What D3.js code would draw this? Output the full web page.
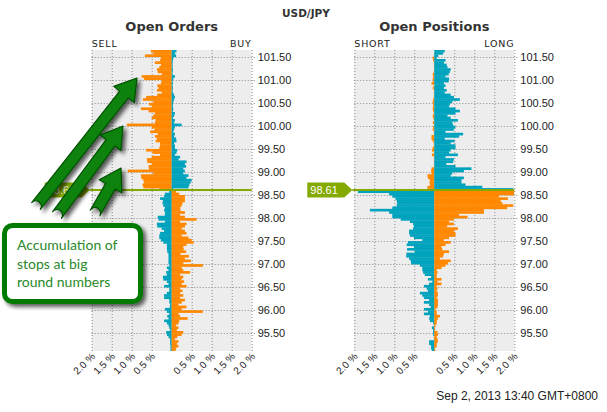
<!DOCTYPE html>
<html><head><meta charset="utf-8">
<script src="https://cdn.jsdelivr.net/npm/d3@7"></script>
<style>body{margin:0;background:#fff;} svg{display:block;}</style>
</head><body>
<svg id="c" width="607" height="412"></svg>
<script>
// ---- data ----
const priceLevels = [101.60,101.55,101.50,101.45,101.40,101.35,101.30,101.25,101.20,101.15,101.10,101.05,101.00,
100.95,100.90,100.85,100.80,100.75,100.70,100.65,100.60,100.55,100.50,
100.45,100.40,100.35,100.30,100.25,100.20,100.15,100.10,100.05,100.00,
99.95,99.90,99.85,99.80,99.75,99.70,99.65,99.60,99.55,99.50,
99.45,99.40,99.35,99.30,99.25,99.20,99.15,99.10,99.05,99.00,
98.95,98.90,98.85,98.80,98.75,98.70,98.65,98.60,98.55,98.50,
98.45,98.40,98.35,98.30,98.25,98.20,98.15,98.10,98.05,98.00,
97.95,97.90,97.85,97.80,97.75,97.70,97.65,97.60,97.55,97.50,
97.45,97.40,97.35,97.30,97.25,97.20,97.15,97.10,97.05,97.00,
96.95,96.90,96.85,96.80,96.75,96.70,96.65,96.60,96.55,96.50,
96.45,96.40,96.35,96.30,96.25,96.20,96.15,96.10,96.05,96.00,
95.95,95.90,95.85,95.80,95.75,95.70,95.65,95.60,95.55,95.50,
95.45,95.40,95.35,95.30,95.25,95.20,95.15,95.10];

const ordersSell = [0.52,0.46,0.67,0.27,0.29,0.42,0.27,0.31,0.37,0.35,
0.25,0.75,0.69,0.25,0.27,0.36,0.33,0.37,0.25,0.36,
0.64,0.72,0.46,0.57,0.50,0.77,0.58,0.42,0.46,0.50,
0.40,0.42,1.12,0.50,0.43,0.54,0.35,0.42,0.37,0.40,
0.29,0.29,0.31,0.64,0.48,0.29,0.50,0.62,0.61,0.50,
0.58,0.57,1.10,0.46,0.77,0.76,0.71,0.69,0.73,0.71,
0.31,
0.06,0.17,0.19,0.29,0.22,0.23,0.21,0.17,0.19,
0.17,0.17,0.35,0.33,0.17,0.37,0.36,0.25,0.19,0.29,
0.31,0.31,0.27,0.21,0.12,0.12,0.12,0.11,0.08,0.08,
0.08,0.08,0.08,0.06,0.12,0.08,0.14,0.12,0.22,0.21,
0.12,0.08,0.19,0.06,0.06,0.12,0.19,0.19,0.06,0.06,
0.04,0.05,0.17,0.12,0.06,0.11,0.08,0.19,0.12,0.08,
0.06,0.04,0.14,0.12,0.08,0.04,0.04,0.04,0.03,0.03,0.03];

const ordersBuy = [0.12,0.08,0.11,0.04,0.03,0.02,0.02,0.02,0.03,0.02,
0.02,0.08,0.04,0.02,0.03,0.02,0.03,0.02,0.03,0.06,
0.08,0.06,0.04,0.03,0.03,0.04,0.03,0.08,0.06,0.03,
0.08,0.06,0.25,0.08,0.06,0.04,0.08,0.06,0.11,0.12,
0.06,0.08,0.08,0.14,0.12,0.08,0.21,0.17,0.37,0.33,
0.36,0.29,0.33,0.29,0.42,0.37,0.50,0.47,0.44,0.42,
0.04,
0.11,0.19,0.33,0.33,0.33,0.27,0.25,0.21,0.22,
0.33,0.21,0.33,0.62,0.21,0.37,0.33,0.25,0.33,0.37,
0.25,0.42,0.50,0.55,0.37,0.29,0.30,0.36,0.22,0.43,
0.33,0.48,0.29,0.78,0.25,0.29,0.46,0.21,0.29,0.25,
0.31,0.25,0.37,0.21,0.27,0.21,0.29,0.21,0.33,0.25,
0.17,0.37,0.25,0.78,0.17,0.21,0.40,0.19,0.17,0.11,
0.17,0.13,0.29,0.25,0.14,0.08,0.17,0.13,0.17,0.11,0.10];

const positionsShort = [0,0,0.01,0.04,0.03,0.01,0.01,0.01,0.01,0.01,
0.04,0.03,0.04,0.03,0.07,0.01,0.04,0.01,0.01,0.01,
0.01,0.03,0.04,0.03,0.03,0.04,0.03,0.01,0.04,0.03,
0.01,0.04,0.01,0.03,0.04,0.01,0.01,0.07,0.07,0.04,
0.01,0.01,0.04,0.06,0.01,0.06,0.01,0.01,0.01,0.01,
0.01,0.07,0.08,0.07,0.17,0.16,0.11,0.12,0.11,0.17,
0.17,
1.91,1.13,1.05,0.97,0.94,0.93,0.94,1.05,1.61,
1.13,1.05,1.05,0.84,0.61,0.53,0.51,0.53,0.63,0.63,
0.61,0.51,0.30,0.66,0.69,0.51,0.68,0.49,0.70,0.70,
0.63,0.59,0.58,0.36,0.30,0.30,0.28,0.24,0.08,0.16,
0.05,0.13,0.26,0.19,0.16,0.36,0.30,0.26,0.13,0.26,
0.13,0.09,0.26,0.16,0.26,0.11,0.13,0.11,0.03,0.01,
0.06,0.03,0.03,0.03,0.01,0.01,0.13,0.13,0.08,0.08,0.06];

const positionsLong = [0.26,0.22,0.10,0.06,0.28,0.24,0.31,0.33,0.41,0.39,
0.36,0.28,0.37,0.36,0.24,0.28,0.24,0.31,0.26,0.41,
0.49,0.64,0.45,0.39,0.37,0.53,0.64,0.53,0.33,0.41,
0.59,0.45,0.47,0.53,0.49,0.28,0.72,0.62,0.26,0.51,
0.41,0.53,0.53,0.41,0.37,0.59,0.28,0.49,0.47,0.30,
0.53,0.93,0.74,0.45,0.41,0.74,0.68,0.68,0.78,1.20,
1.97,
2.0,2.0,1.62,1.84,1.66,1.70,1.97,1.82,1.24,
1.24,0.62,0.83,0.49,0.37,0.49,0.32,0.59,0.49,0.53,
0.53,0.37,0.24,0.41,0.28,0.18,0.20,0.37,0.24,0.22,
0.14,0.41,0.34,0.28,0.18,0.06,0.08,0.06,0.06,0.18,
0.08,0.18,0.06,0.08,0.06,0.09,0.09,0.06,0.09,0.09,
0.09,0.08,0.03,0.06,0.06,0.14,0.09,0.06,0.06,0.03,
0.02,0.02,0.08,0.09,0.06,0.08,0.09,0.06,0.06,0.02,0.02];

const currentPrice = 98.61;
const priceTicks = [101.5,101.0,100.5,100.0,99.5,99.0,98.5,98.0,97.5,97.0,96.5,96.0,95.5];
const pctGrid = [-2,-1.5,-1,-0.5,0,0.5,1,1.5,2];
const pctTickLabels = [-2,-1.5,-1,-0.5,0.5,1,1.5,2];
const annotationLines = ["Accumulation of","stops at big","round numbers"];

// ---- layout ----
const step = 0.05;
const plotTop = 50, plotBottom = 351;
const orange = "#FF8800", blue = "#00A3BD", priceGreen = "#84A900";
const svg = d3.select("#c");
const y = d3.scaleLinear().domain([95.5, 101.5]).range([333.3, 56.7]);

const defs = svg.append("defs");
const sh = defs.append("filter").attr("id","shadow").attr("x","-30%").attr("y","-30%").attr("width","160%").attr("height","160%");
sh.append("feGaussianBlur").attr("in","SourceAlpha").attr("stdDeviation",2).attr("result","b");
sh.append("feOffset").attr("in","b").attr("dx",3).attr("dy",3).attr("result","o");
sh.append("feComponentTransfer").attr("in","o").attr("result","o2")
  .append("feFuncA").attr("type","linear").attr("slope",0.65);
const mg = sh.append("feMerge");
mg.append("feMergeNode").attr("in","o2");
mg.append("feMergeNode").attr("in","SourceGraphic");

svg.append("text").attr("x",306).attr("y",17).attr("text-anchor","middle")
  .attr("font-family","DejaVu Sans").attr("font-weight","bold").attr("font-size",10.5)
  .attr("fill","#333").text("USD/JPY");

const panels = [
  {id:"o", title:"Open Orders", leftLabel:"SELL", rightLabel:"BUY", left:ordersSell, right:ordersBuy, range:[91.7,251.7]},
  {id:"p", title:"Open Positions", leftLabel:"SHORT", rightLabel:"LONG", left:positionsShort, right:positionsLong, range:[354.3,514.3]}
];

const data = priceLevels.map((p,i)=>({p, i}));

panels.forEach(pn => {
  const x = d3.scaleLinear().domain([-2,2]).range(pn.range);
  const g = svg.append("g");
  const x0 = pn.range[0], x1 = pn.range[1], cx = x(0);
  defs.append("clipPath").attr("id","clip-"+pn.id).append("rect")
    .attr("x",x0).attr("y",plotTop).attr("width",x1-x0).attr("height",plotBottom-plotTop);

  g.append("rect").attr("x",x0).attr("y",plotTop).attr("width",x1-x0).attr("height",plotBottom-plotTop).attr("fill","#EDEDED");

  // grid
  g.selectAll(".vg").data(pctGrid).join("line")
    .attr("x1",d=>x(d)+0.5).attr("x2",d=>x(d)+0.5).attr("y1",plotTop).attr("y2",plotBottom)
    .attr("stroke","#8a8a8a").attr("stroke-dasharray","1,2");
  g.selectAll(".hg").data(priceTicks).join("line")
    .attr("x1",x0).attr("x2",x1+3).attr("y1",d=>Math.round(y(d))+0.5).attr("y2",d=>Math.round(y(d))+0.5)
    .attr("stroke","#8a8a8a").attr("stroke-dasharray","1,2");

  // bars
  const bg = g.append("g").attr("clip-path","url(#clip-"+pn.id+")");
  const yCur = y(currentPrice);
  function barY(d){ return y(d.p + step); }
  function barH(d){
    const above = d.p >= 98.60;
    const bottom = above ? Math.min(y(d.p), yCur) : y(d.p);
    return Math.max(0, bottom - y(d.p+step)) + 0.35;
  }
  bg.selectAll(".lb").data(data).join("rect")
    .attr("x",d=>x(-pn.left[d.i])).attr("width",d=>cx - x(-pn.left[d.i]))
    .attr("y",barY).attr("height",barH)
    .attr("fill",d=> d.p >= 98.60 ? orange : blue);
  bg.selectAll(".rb").data(data).join("rect")
    .attr("x",cx).attr("width",d=>x(pn.right[d.i]) - cx)
    .attr("y",barY).attr("height",barH)
    .attr("fill",d=> d.p >= 98.60 ? blue : orange);

  // price line + marker
  g.append("line").attr("x1",x0-2).attr("x2",x1).attr("y1",yCur).attr("y2",yCur)
    .attr("stroke",priceGreen).attr("stroke-width",2);
  const mx = x0 - 2;
  g.append("path").attr("d",`M${mx-45},${yCur-7.5} L${mx-8},${yCur-7.5} L${mx},${yCur} L${mx-8},${yCur+7.5} L${mx-45},${yCur+7.5} Z`)
    .attr("fill",priceGreen);
  g.append("text").attr("x",mx-42).attr("y",yCur+4).attr("fill","#fff")
    .attr("font-family","Liberation Sans").attr("font-size",11).text(currentPrice.toFixed(2));

  // y tick labels
  g.selectAll(".yl").data(priceTicks).join("text")
    .attr("x",x1+6).attr("y",d=>y(d)+4)
    .attr("font-family","Liberation Sans").attr("font-size",11).attr("fill","#222")
    .text(d=>d3.format(".2f")(d));

  // x tick labels
  g.selectAll(".xl").data(pctTickLabels).join("text")
    .attr("transform",d=>`translate(${x(d)+4},${plotBottom+6}) rotate(-45)`)
    .attr("text-anchor","end")
    .attr("font-family","Liberation Sans").attr("font-size",10).attr("fill","#222")
    .text(d=>d3.format(".1f")(Math.abs(d))+" %");

  // headers
  g.append("text").attr("x",cx).attr("y",31).attr("text-anchor","middle")
    .attr("font-family","DejaVu Sans").attr("font-weight","bold").attr("font-size",13)
    .attr("fill","#333").text(pn.title);
  g.append("text").attr("x",x0).attr("y",47).attr("font-family","DejaVu Sans").attr("font-size",9.5)
    .attr("letter-spacing",0.8).attr("fill","#222").text(pn.leftLabel);
  g.append("text").attr("x",x1).attr("y",47).attr("text-anchor","end").attr("font-family","DejaVu Sans").attr("font-size",9.5)
    .attr("letter-spacing",0.8).attr("fill","#222").text(pn.rightLabel);
});

// date stamp
svg.append("text").attr("x",598).attr("y",400).attr("text-anchor","end")
  .attr("font-family","Liberation Sans").attr("font-size",12).attr("fill","#222")
  .text("Sep 2, 2013 13:40 GMT+0800");

// annotation arrows
const arrows = [
  {x1:36,y1:206,x2:137,y2:78},
  {x1:57,y1:215,x2:123,y2:126},
  {x1:95,y1:213,x2:121,y2:168}
];
const ag = svg.append("g").attr("filter","url(#shadow)");
arrows.forEach(a=>{
  const dx=a.x2-a.x1, dy=a.y2-a.y1, len=Math.hypot(dx,dy);
  const ux=dx/len, uy=dy/len, nx=-uy, ny=ux;
  const sw=5.5, hw=13, hl=21;
  const bx=a.x2-ux*hl, by=a.y2-uy*hl;
  const pts=[
    [a.x1+nx*sw, a.y1+ny*sw],
    [bx+nx*sw, by+ny*sw],
    [bx+nx*hw, by+ny*hw],
    [a.x2, a.y2],
    [bx-nx*hw, by-ny*hw],
    [bx-nx*sw, by-ny*sw],
    [a.x1-nx*sw, a.y1-ny*sw]
  ];
  const d = "M"+pts.map(p=>p[0].toFixed(1)+","+p[1].toFixed(1)).join(" L")+
    ` A${sw},${sw} 0 0 1 ${pts[0][0].toFixed(1)},${pts[0][1].toFixed(1)} Z`;
  ag.append("path").attr("d",d).attr("fill","#0A820A").attr("stroke","#034f03").attr("stroke-width",1.2).attr("stroke-linejoin","round");
});

// annotation box
const boxG = svg.append("g");
boxG.append("rect").attr("x",4.5).attr("y",225.5).attr("width",136).attr("height",76).attr("rx",8)
  .attr("fill","#fff").attr("stroke","#047A04").attr("stroke-width",5).attr("filter","url(#shadow)");
boxG.selectAll("text").data(annotationLines).join("text")
  .attr("x",17).attr("y",(d,i)=>250+i*18.5)
  .attr("font-family","Lato").attr("font-size",14).attr("fill","#2A8A2A")
  .text(d=>d);
</script>
</body></html>
